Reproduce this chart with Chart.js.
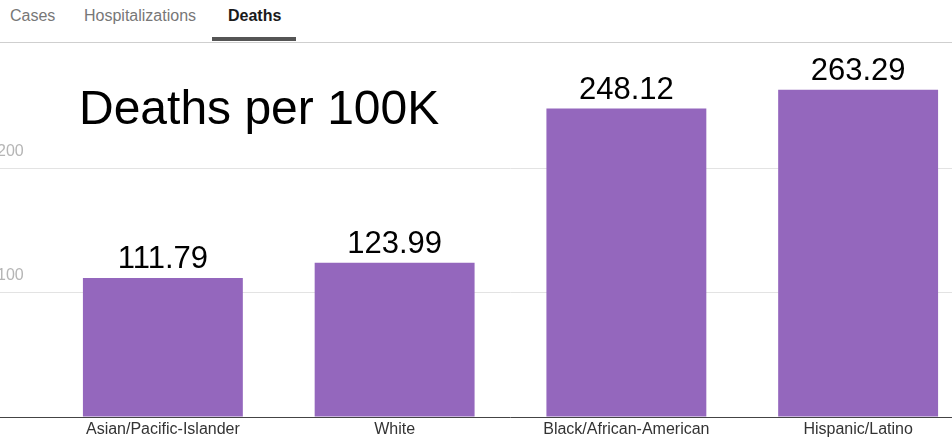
<!DOCTYPE html>
<html>
<head>
<meta charset="utf-8">
<script src="https://cdn.jsdelivr.net/npm/chart.js@4"></script>
<style>
  html, body { margin:0; padding:0; width:952px; height:439px; overflow:hidden; background:#fff; }
  #wrap { position:relative; width:952px; height:439px; overflow:hidden; }
  #chart { position:absolute; left:-20px; top:0; }
  .tabs { position:absolute; left:0; top:0; width:952px; height:42px; background:#fff; border-bottom:1px solid #cfcfcf; font-family:"Liberation Sans", Arial, sans-serif; font-size:16px; }
  .tabs span { position:absolute; top:7px; color:#777; }
  .tabs span.on { color:#1a1a1a; font-weight:bold; }
  .tabs .bar { position:absolute; left:212px; top:37px; width:84px; height:4px; background:#555; }
  .title { position:absolute; left:79px; top:84px; font-family:"Liberation Sans", Arial, sans-serif; font-size:48px; line-height:1; color:#000; }
</style>
</head>
<body>
<div id="wrap">
  <canvas id="chart" width="994" height="439"></canvas>
  <div class="tabs">
    <span style="left:10px">Cases</span>
    <span style="left:84px">Hospitalizations</span>
    <span class="on" style="left:228px">Deaths</span>
    <div class="bar"></div>
  </div>
  <div class="title">Deaths per 100K</div>
</div>
<script>
// 데이터
var groups = ["Asian/Pacific-Islander", "White", "Black/African-American", "Hispanic/Latino"];
var deaths = [111.79, 123.99, 248.12, 263.29];
var yTicks = [0, 100, 200, 300];

// 막대 위 값 표시
var valueLabels = {
  id: 'valueLabels',
  afterDatasetsDraw: function(chart){
    var ctx = chart.ctx;
    var meta = chart.getDatasetMeta(0);
    ctx.save();
    ctx.font = '31px "Liberation Sans", Arial, sans-serif';
    ctx.fillStyle = '#000';
    ctx.textAlign = 'center';
    ctx.textBaseline = 'alphabetic';
    meta.data.forEach(function(bar, i){
      ctx.fillText(deaths[i].toFixed(2), bar.x, bar.y - 10);
    });
    ctx.restore();
  }
};

new Chart(document.getElementById("chart"), {
  type: 'bar',
  data: {
    labels: groups,
    datasets: [{
      label: "Deaths per 100K",
      backgroundColor: "#9467bd",
      data: deaths,
      categoryPercentage: 1,
      barPercentage: 0.69
    }]
  },
  options: {
    responsive: false,
    animation: false,
    devicePixelRatio: 1,
    layout: { padding: { top: 44, left: 0, right: 0, bottom: 0 } },
    plugins: { legend: { display: false }, tooltip: { enabled: false } },
    scales: {
      x: {
        grid: { display: false, drawTicks: false },
        border: { display: false },
        ticks: {
          color: '#333',
          padding: 3,
          maxRotation: 0,
          font: { family: '"Liberation Sans", Arial, sans-serif', size: 16 }
        },
        afterFit: function(s){ s.height = 22; }
      },
      y: {
        min: yTicks[0],
        max: yTicks[yTicks.length - 1],
        afterBuildTicks: function(s){ s.ticks = yTicks.map(function(v){ return { value: v }; }); },
        border: { display: false },
        grid: {
          tickLength: 67,
          color: function(c){
            if (c.tick && c.tick.value === 0) return '#444';
            if (c.tick && c.tick.value === 300) return 'rgba(0,0,0,0)';
            return '#e3e3e3';
          },
          lineWidth: 1
        },
        ticks: {
          mirror: true,
          padding: -50,
          labelOffset: -17,
          color: '#b5b5b5',
          font: { family: '"Liberation Sans", Arial, sans-serif', size: 16 },
          callback: function(v){ return (v === 0 || v === 300) ? '' : v; }
        },
        afterFit: function(s){ s.width = 67; }
      }
    }
  },
  plugins: [valueLabels]
});
</script>
</body>
</html>
